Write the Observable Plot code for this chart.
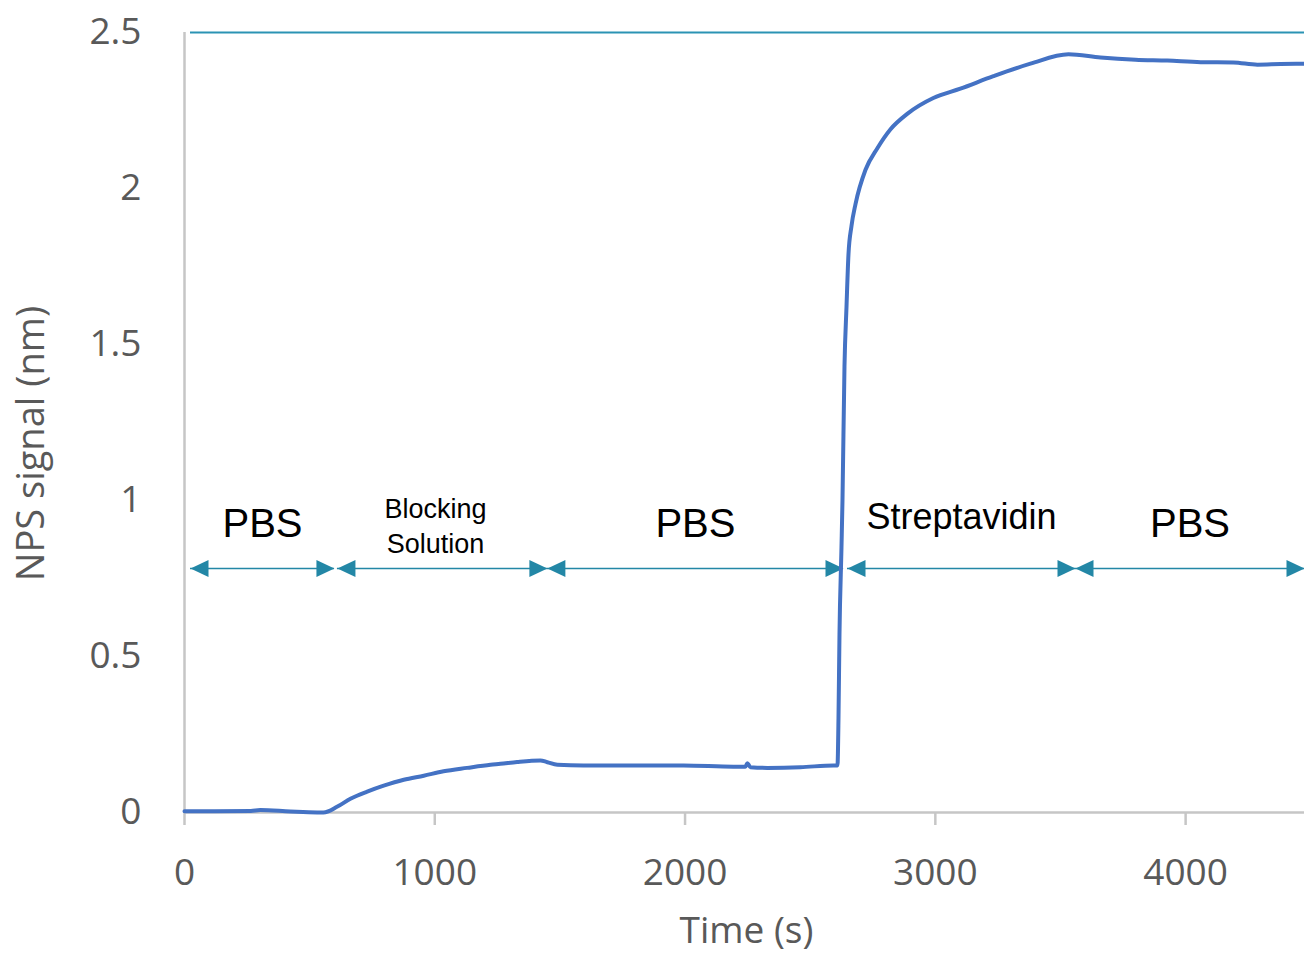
<!DOCTYPE html>
<html><head><meta charset="utf-8">
<script src="https://cdn.jsdelivr.net/npm/d3@7"></script>
<script src="https://cdn.jsdelivr.net/npm/@observablehq/plot@0.6"></script>
<style>body{margin:0;background:#fff} #chart{width:1304px;height:954px}</style>
</head><body><div id="chart"></div>
<script>
// ---- data ----
const time = [0, 120, 265, 303, 423, 530, 555, 611, 663, 730, 796, 876, 956, 1035, 1129, 1223, 1262, 1329, 1422, 1450, 1490, 1594, 1794, 1994, 2193, 2241, 2249, 2261, 2329, 2461, 2593, 2609,
  2613, 2617, 2625, 2629, 2637, 2645, 2653, 2665, 2681, 2721, 2769, 2821, 2889, 2992, 3100, 3232, 3380, 3532, 3660, 3800, 3927, 4060, 4191, 4287, 4380, 4475];
const signal = [0.004, 0.004, 0.005, 0.008, 0.003, 0.0, 0.0, 0.019, 0.044, 0.067, 0.086, 0.105, 0.118, 0.132, 0.143, 0.153, 0.156, 0.162, 0.167, 0.161, 0.153, 0.151, 0.151, 0.151, 0.147, 0.147, 0.158, 0.145, 0.143, 0.145, 0.151, 0.151,
  0.30, 0.57, 0.85, 1.0, 1.43, 1.62, 1.79, 1.88, 1.95, 2.06, 2.13, 2.19, 2.24, 2.29, 2.32, 2.36, 2.40, 2.43, 2.42, 2.413, 2.41, 2.405, 2.404, 2.397, 2.399, 2.40];

const phaseLabels = ["PBS", "Blocking\nSolution", "PBS", "Streptavidin", "PBS"];
const phaseStart = [24, 611, 1450, 2649, 3560];
const phaseEnd = [599, 1450, 2633, 3560, 4475];
const arrowLevel = 0.782;
const topLineLevel = 2.5;
const xMax = 4475;
const xTicks = [0, 1000, 2000, 3000, 4000];
const yTicks = [0, 0.5, 1, 1.5, 2, 2.5];
const yTickLabels = ["0", "0.5", "1", "1.5", "2", "2.5"];

// ---- styling ----
const teal = "#2387a6";
const axisGrey = "#c6c6c6";
const textGrey = "#595959";
const lineBlue = "#4472c4";

const series = time.map((t, i) => ({t, v: signal[i]}));
const phases = phaseLabels.map((label, i) => ({label, start: phaseStart[i], end: phaseEnd[i], mid: (phaseStart[i] + phaseEnd[i]) / 2}));

const headRight = {draw(ctx) { ctx.moveTo(0, 0); ctx.lineTo(-18, -8.5); ctx.lineTo(-18, 8.5); ctx.closePath(); }};
const headLeft = {draw(ctx) { ctx.moveTo(0, 0); ctx.lineTo(18, -8.5); ctx.lineTo(18, 8.5); ctx.closePath(); }};

const big = phases.filter(p => p.label === "PBS");
const strep = phases.filter(p => p.label === "Streptavidin");
const block = phases.filter(p => p.label.startsWith("Blocking"));

const chart = Plot.plot({
  width: 1304,
  height: 954,
  marginLeft: 184,
  marginRight: 0,
  marginTop: 32,
  marginBottom: 142,
  style: {fontFamily: "'Open Sans', sans-serif", background: "white", overflow: "visible"},
  x: {domain: [0, xMax], label: null},
  y: {domain: [0, 2.5], label: null},
  marks: [
    Plot.ruleX([0], {y1: 0, y2: 2.5, stroke: axisGrey, strokeWidth: 2.5}),
    Plot.ruleY([0], {stroke: axisGrey, strokeWidth: 2.5}),
    Plot.axisX(xTicks, {tickSize: 13, tickPadding: 33, stroke: axisGrey, strokeWidth: 2.5, fill: textGrey, fontSize: 37, tickFormat: d => `${d}`}),
    Plot.axisY(yTicks, {tickSize: 0, tickPadding: 43, fill: textGrey, fontSize: 37, tickFormat: d => yTickLabels[yTicks.indexOf(d)]}),
    Plot.text(["Time (s)"], {frameAnchor: "bottom", lineAnchor: "bottom", dy: 130, dx: 2, fontSize: 37, fill: textGrey}),
    Plot.text(["NPS signal (nm)"], {frameAnchor: "left", lineAnchor: "bottom", textAnchor: "middle", rotate: -90, dx: -141, dy: 21, fontSize: 38, fill: textGrey}),
    Plot.ruleY([topLineLevel], {x1: phaseStart[0], x2: xMax, stroke: "#2b93b4", strokeWidth: 2}),
    Plot.ruleY(phases, {x1: "start", x2: "end", y: arrowLevel, stroke: teal, strokeWidth: 1.6}),
    Plot.dot(phases, {x: "end", y: arrowLevel, symbol: headRight, fill: teal, stroke: "none"}),
    Plot.dot(phases, {x: "start", y: arrowLevel, symbol: headLeft, fill: teal, stroke: "none"}),
    Plot.text(big, {x: "mid", y: arrowLevel, text: "label", dy: -32, lineAnchor: "bottom", fontSize: 40, fill: "black", fontFamily: "'Liberation Sans', Arial, sans-serif"}),
    Plot.text(strep, {x: "mid", y: arrowLevel, text: "label", dy: -40, lineAnchor: "bottom", fontSize: 36, fill: "black", fontFamily: "'Liberation Sans', Arial, sans-serif"}),
    Plot.text(block, {x: "mid", y: arrowLevel, text: "label", dx: -7, dy: -16, lineAnchor: "bottom", lineHeight: 1.27, fontSize: 27, fill: "black", fontFamily: "'Liberation Sans', Arial, sans-serif"}),
    Plot.line(series, {x: "t", y: "v", stroke: lineBlue, strokeWidth: 4, strokeLinejoin: "round", strokeLinecap: "round", curve: "monotone-x"})
  ]
});
document.getElementById("chart").appendChild(chart);
</script>
</body></html>
